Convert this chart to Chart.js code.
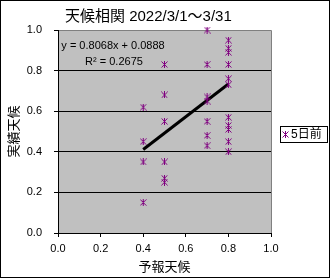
<!DOCTYPE html>
<html><head><meta charset="utf-8">
<script src="https://cdn.jsdelivr.net/npm/chart.js@4/dist/chart.umd.min.js"></script>
<style>html,body{margin:0;padding:0;background:#fff;}#wrap{width:330px;height:278px;}</style>
</head><body><div id="wrap"><canvas id="c" width="330" height="278"></canvas></div>
<script>
// ---- data ----
const chartTitle = '天候相関 2022/3/1～3/31';
const seriesName = '5日前';
const xAxisTitle = '予報天候';
const yAxisTitle = '実績天候';
const forecast = [0.4,0.4,0.4,0.4, 0.5,0.5,0.5,0.5,0.5,0.5, 0.7,0.7,0.7,0.7,0.7,0.7,0.7, 0.8,0.8,0.8,0.8,0.8,0.8,0.8,0.8,0.8,0.8,0.8];
const actual   = [0.62,0.45,0.35,0.15, 0.83,0.68,0.55,0.35,0.27,0.25, 1.00,0.83,0.67,0.65,0.55,0.48,0.43, 0.95,0.91,0.89,0.83,0.76,0.73,0.57,0.53,0.51,0.45,0.40];
const trendSlope = 0.8068;
const trendIntercept = 0.0888;
const rSquared = 0.2675;
const xTickLabels = ['0.0','0.2','0.4','0.6','0.8','1.0'];
const yTickLabels = ['0.0','0.2','0.4','0.6','0.8','1.0'];

const FONT = "'Liberation Sans', Arial, 'Noto Sans CJK JP', sans-serif";
const PURPLE = '#800080';

function makeStar(){
  const c = document.createElement('canvas');
  c.width = 7; c.height = 7;
  const g = c.getContext('2d');
  g.strokeStyle = PURPLE; g.lineWidth = 1;
  g.beginPath();
  g.moveTo(0.5,0.5); g.lineTo(6.5,6.5);
  g.moveTo(6.5,0.5); g.lineTo(0.5,6.5);
  g.moveTo(3.5,0); g.lineTo(3.5,7);
  g.stroke();
  return c;
}
const star = makeStar();

const points = forecast.map((x,i)=>({x:x, y:actual[i]}));
const xMin = Math.min(...forecast), xMax = Math.max(...forecast);
const trend = [xMin, xMax].map(x=>({x:x, y:trendSlope*x+trendIntercept}));

const decor = {
  id:'decor',
  beforeDraw(chart){
    const {ctx, chartArea:a} = chart;
    ctx.save();
    ctx.fillStyle = '#fff';
    ctx.fillRect(0,0,chart.width,chart.height);
    ctx.strokeStyle = '#000'; ctx.lineWidth = 1;
    ctx.strokeRect(0.5,0.5,chart.width-1,chart.height-1);
    ctx.fillStyle = '#C0C0C0';
    ctx.fillRect(a.left, a.top, a.right-a.left, a.bottom-a.top);
    ctx.strokeStyle = '#808080';
    ctx.beginPath();
    ctx.moveTo(a.left, a.top+0.5); ctx.lineTo(a.right+0.5, a.top+0.5); ctx.lineTo(a.right+0.5, a.bottom);
    ctx.stroke();
    ctx.restore();
  },
  afterDraw(chart){
    const {ctx} = chart;
    ctx.save();
    ctx.fillStyle = '#000';
    ctx.textBaseline = 'middle';
    ctx.textAlign = 'left';
    ctx.font = '15px ' + FONT;
    ctx.fillText(chartTitle, 65, 17);
    ctx.font = '11px ' + FONT;
    ctx.textAlign = 'center';
    ctx.fillText('y = ' + trendSlope.toFixed(4) + 'x + ' + trendIntercept.toFixed(4), 113, 46);
    ctx.fillText('R² = ' + rSquared.toFixed(4), 114, 62);
    // legend
    ctx.fillStyle = '#fff';
    ctx.fillRect(280, 126, 47, 16);
    ctx.strokeStyle = '#000'; ctx.lineWidth = 1;
    ctx.strokeRect(280.5, 126.5, 47, 16);
    ctx.drawImage(star, 282, 131);
    ctx.fillStyle = '#000';
    ctx.textAlign = 'left';
    ctx.font = '12px ' + FONT;
    ctx.fillText(seriesName, 291, 135);
    ctx.restore();
  }
};

new Chart(document.getElementById('c'), {
  type:'scatter',
  data:{datasets:[
    {label:seriesName, data:points, pointStyle:star, pointRadius:3.5, borderColor:PURPLE, backgroundColor:PURPLE, clip:false, order:1},
    {type:'line', label:'trend', data:trend, borderColor:'#000', borderWidth:3, pointRadius:0, fill:false, order:2}
  ]},
  options:{
    responsive:false, animation:false, devicePixelRatio:1,
    layout:{padding:{left:0,right:59,top:30,bottom:0}},
    plugins:{legend:{display:false}, title:{display:false}, tooltip:{enabled:false}},
    scales:{
      x:{type:'linear', min:0, max:1,
        ticks:{stepSize:0.2, color:'#000', font:{size:11, family:FONT}, padding:5, maxRotation:0,
          callback:(v,i)=>xTickLabels[i]},
        grid:{drawOnChartArea:false, tickLength:4, tickColor:'#000'},
        border:{color:'#000', width:1},
        title:{display:true, text:xAxisTitle, color:'#000', font:{size:13, family:FONT}, padding:{top:0,bottom:3}},
        afterFit(s){ s.height = 45; }
      },
      y:{type:'linear', min:0, max:1,
        ticks:{stepSize:0.2, color:'#000', font:{size:11, family:FONT}, padding:12,
          callback:(v,i)=>yTickLabels[i]},
        grid:{tickLength:4, tickColor:'#000', color:(c)=> (c.tick && c.tick.value===1) ? '#808080' : '#000'},
        border:{color:'#000', width:1},
        title:{display:true, text:yAxisTitle, color:'#000', font:{size:13, family:FONT}, padding:{top:7,bottom:0}},
        afterFit(s){ s.width = 58; }
      }
    }
  },
  plugins:[decor]
});
</script></body></html>
